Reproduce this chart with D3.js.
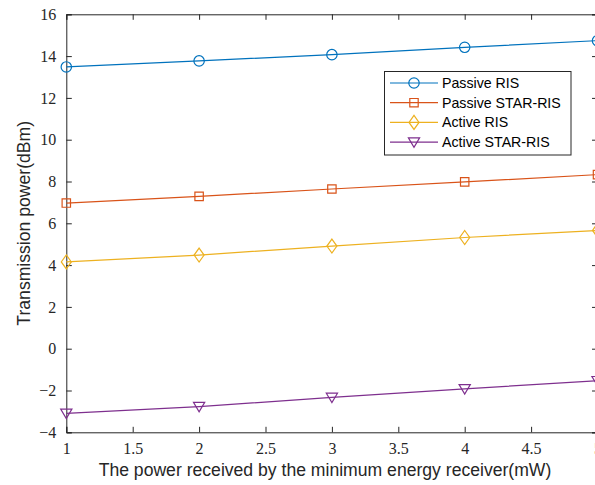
<!DOCTYPE html>
<html><head><meta charset="utf-8">
<script src="https://cdn.jsdelivr.net/npm/d3@7"></script>
<style>body{margin:0;background:#fff;} svg{display:block;}</style>
</head><body>
<svg id="chart" width="595" height="485"></svg>
<script>
const xValues = [1, 2, 3, 4, 5];
const passiveRIS = [13.48, 13.77, 14.07, 14.42, 14.74];
const passiveSTAR = [6.97, 7.29, 7.64, 7.98, 8.33];
const activeRIS = [4.15, 4.48, 4.91, 5.32, 5.66];
const activeSTAR = [-3.09, -2.77, -2.33, -1.92, -1.53];
const seriesNames = ["Passive RIS", "Passive STAR-RIS", "Active RIS", "Active STAR-RIS"];
const xTicks = [1, 1.5, 2, 2.5, 3, 3.5, 4, 4.5, 5];
const yTicks = [-4, -2, 0, 2, 4, 6, 8, 10, 12, 14, 16];
const xLabel = "The power received by the minimum energy receiver(mW)";
const yLabel = "Transmission power(dBm)";

const colors = ["#0072BD", "#D95319", "#EDB120", "#7E2F8E"];
const markers = ["circle", "square", "diamond", "triangle"];
const seriesData = [passiveRIS, passiveSTAR, activeRIS, activeSTAR];

const svg = d3.select("#chart");
const L = 66.3, R = 597.5, T = 14.3, B = 432.3;
const x = d3.scaleLinear().domain([1, 5]).range([L, R]);
const y = d3.scaleLinear().domain([-4, 16]).range([B, T]);

const tickFont = "'Liberation Serif', 'Times New Roman', serif";
const sansFont = "'Liberation Sans', Arial, Helvetica, sans-serif";
const tl = 5.5;

// axes
const gx = svg.append("g").attr("transform", `translate(0,${B})`)
  .call(d3.axisBottom(x).tickValues(xTicks).tickSize(-tl).tickPadding(10).tickFormat(d3.format("")));
const gxt = svg.append("g").attr("transform", `translate(0,${T})`)
  .call(d3.axisTop(x).tickValues(xTicks).tickSize(-tl).tickFormat(""));
const gy = svg.append("g").attr("transform", `translate(${L},0)`)
  .call(d3.axisLeft(y).tickValues(yTicks).tickSize(-tl).tickPadding(10).tickFormat(d3.format("")));
const gyr = svg.append("g").attr("transform", `translate(${R},0)`)
  .call(d3.axisRight(y).tickValues(yTicks).tickSize(-tl).tickFormat(""));
[gx, gxt, gy, gyr].forEach(g => {
  g.select(".domain").attr("stroke", "#262626").attr("stroke-width", 1);
  g.selectAll(".tick line").attr("stroke", "#262626").attr("stroke-width", 1);
  g.selectAll(".tick text").attr("fill", "#262626").style("font-family", tickFont).style("font-size", "16px");
});
gy.selectAll(".tick text").attr("dy", "0.32em");

function markerPath(type) {
  if (type === "circle") return d3.symbol(d3.symbolCircle, Math.PI * 5.2 * 5.2)();
  if (type === "square") return "M-4.2,-4.2H4.2V4.2H-4.2Z";
  if (type === "diamond") return "M0,-7L5,0L0,7L-5,0Z";
  return "M-5.6,-4.2H5.6L0,5.2Z";
}

const line = d3.line().x((d, i) => x(xValues[i])).y(d => y(d));
seriesData.forEach((vals, s) => {
  const g = svg.append("g");
  g.append("path").datum(vals).attr("d", line).attr("fill", "none")
    .attr("stroke", colors[s]).attr("stroke-width", 1.2);
  g.selectAll("path.m").data(vals).enter().append("path").attr("class", "m")
    .attr("transform", (d, i) => `translate(${x(xValues[i])},${y(d)})`)
    .attr("d", markerPath(markers[s]))
    .attr("fill", "none").attr("stroke", colors[s]).attr("stroke-width", 1.2);
});

// legend
const lg = svg.append("g");
lg.append("rect").attr("x", 384.5).attr("y", 71.5).attr("width", 186.5).attr("height", 83.5)
  .attr("fill", "#fff").attr("stroke", "#262626").attr("stroke-width", 1);
seriesNames.forEach((name, s) => {
  const yy = 83 + s * 19.7;
  lg.append("line").attr("x1", 390).attr("x2", 438).attr("y1", yy).attr("y2", yy)
    .attr("stroke", colors[s]).attr("stroke-width", 1.2);
  lg.append("path").attr("transform", `translate(414,${yy})`).attr("d", markerPath(markers[s]))
    .attr("fill", "none").attr("stroke", colors[s]).attr("stroke-width", 1.2);
  lg.append("text").attr("x", 442).attr("y", yy).attr("dy", "0.35em")
    .style("font-family", sansFont).style("font-size", "14.2px").attr("fill", "#000").text(name);
});

// axis labels
svg.append("text").attr("x", 325).attr("y", 476).attr("text-anchor", "middle")
  .style("font-family", sansFont).style("font-size", "17.6px").attr("fill", "#262626").text(xLabel);
svg.append("text").attr("transform", `translate(30,${(T + B) / 2}) rotate(-90)`).attr("text-anchor", "middle")
  .style("font-family", sansFont).style("font-size", "17.6px").attr("fill", "#262626").text(yLabel);
</script>
</body></html>
